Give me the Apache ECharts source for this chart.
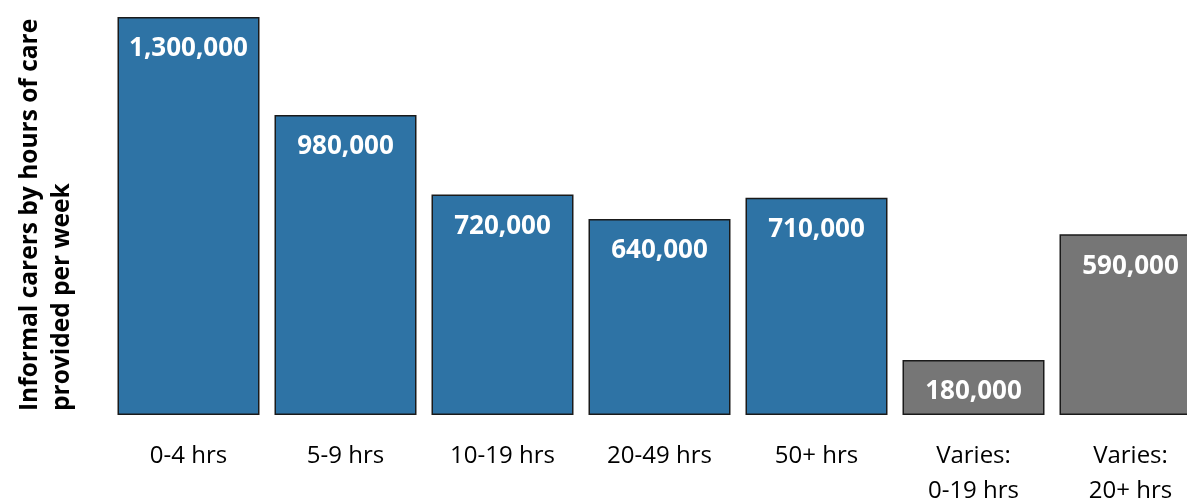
<!DOCTYPE html>
<html><head><meta charset="utf-8">
<script src="https://cdn.jsdelivr.net/npm/echarts@6/dist/echarts.min.js"></script>
<style>html,body{margin:0;padding:0;background:#fff}#c{width:1187px;height:501px}</style>
</head><body><div id="c"></div>
<script>
const categories = ['0-4 hrs', '5-9 hrs', '10-19 hrs', '20-49 hrs', '50+ hrs', 'Varies:\n0-19 hrs', 'Varies:\n20+ hrs'];
const values = [1300000, 980000, 720000, 640000, 710000, 180000, 590000];
const barColors = ['#2E73A5', '#2E73A5', '#2E73A5', '#2E73A5', '#2E73A5', '#767676', '#767676'];
const yTitle = 'Informal carers by hours of care\nprovided per week';

const chart = echarts.init(document.getElementById('c'), null, {renderer: 'canvas'});
chart.setOption({
  animation: false,
  grid: {left: 110, top: 17, right: -22, bottom: 86, containLabel: false, outerBoundsMode: 'none'},
  graphic: [{
    type: 'text', x: 14, y: 411, rotation: Math.PI / 2,
    style: {
      text: yTitle, fontFamily: 'Open Sans', fontWeight: 'bold', fontSize: 24.5,
      lineHeight: 32, fill: '#000', align: 'left', verticalAlign: 'top'
    }
  }],
  xAxis: {
    type: 'category', data: categories,
    axisLine: {show: false}, axisTick: {show: false},
    axisLabel: {fontFamily: 'Open Sans', fontSize: 24, color: '#000', margin: 24, lineHeight: 35, interval: 0}
  },
  yAxis: {
    type: 'value', min: 0, max: 1300000,
    axisLine: {show: false}, axisTick: {show: false}, axisLabel: {show: false}, splitLine: {show: false}
  },
  series: [{
    type: 'bar', barWidth: 142,
    data: values.map((v, i) => ({value: v, itemStyle: {color: barColors[i]}})),
    itemStyle: {borderColor: '#1a1a1a', borderWidth: 1.5},
    label: {
      show: true, position: 'insideTop', distance: 19,
      color: '#fff', fontFamily: 'Open Sans', fontWeight: 'bold', fontSize: 26,
      formatter: p => p.value.toLocaleString('en-US')
    }
  }]
});
</script></body></html>
